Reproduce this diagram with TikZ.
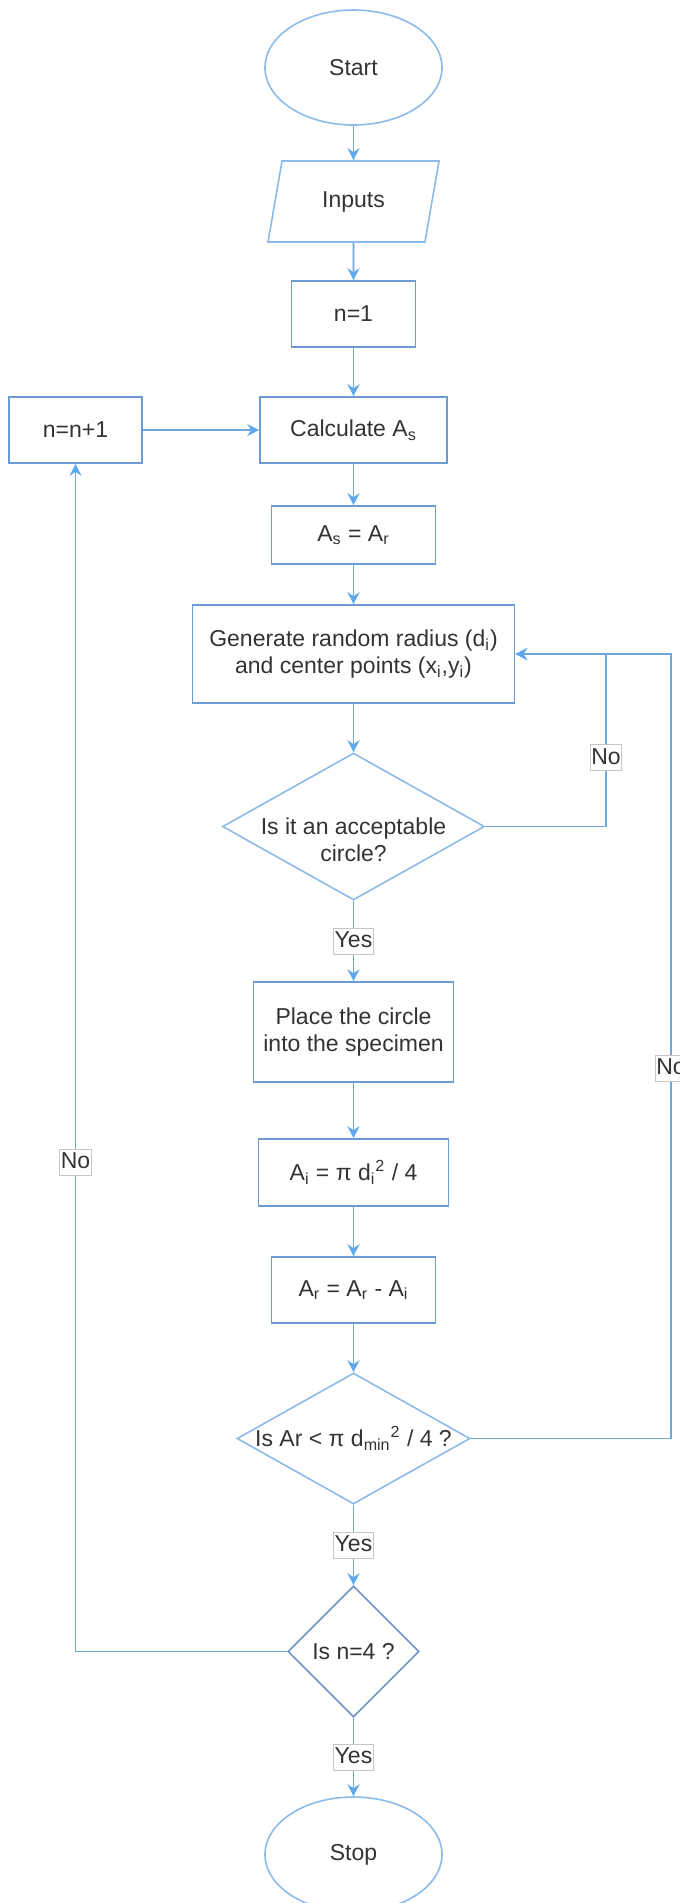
\documentclass[tikz,border=0pt]{standalone}
\usepackage{fontspec}
\setmainfont{Liberation Sans}
\usepackage{xcolor}
\usetikzlibrary{shapes.geometric, arrows.meta}
\definecolor{flowline}{HTML}{6FA8DC}
\definecolor{flowtip}{HTML}{5FA8F0}
\definecolor{boxline}{HTML}{6C9BD2}
\definecolor{softline}{HTML}{8CBBEA}
\definecolor{textgray}{HTML}{333333}

\begin{document}
\begin{tikzpicture}[x=0.5pt, y=-0.5pt, >={Stealth[length=6pt,width=6pt,inset=2pt,color=flowtip]},
  font=\fontsize{11.5}{13.5}\selectfont, text=textgray,
  terminal/.style={ellipse, draw=softline, line width=0.8pt, minimum width=88.5pt, minimum height=57.5pt},
  process/.style={rectangle, draw=boxline, line width=0.8pt, align=center, minimum height=33pt},
  decision/.style={diamond, draw=softline, line width=0.8pt, inner sep=0pt},
  flow/.style={->, draw=flowline, line width=0.8pt},
  tag/.style={fill=white, draw=gray!45, line width=0.4pt, inner xsep=0.5pt, inner ysep=1.2pt, text height=8.5pt, text depth=2pt}]

 \useasboundingbox (0,0) rectangle (680,1903);

 % main column
 \node (start) [terminal] at (353.5,67.5) {Start};
 \node (inputs) [trapezium, trapezium left angle=67.5, trapezium right angle=112.5, trapezium stretches body, draw=softline, line width=0.8pt, minimum width=85.5pt, minimum height=40.5pt, below of=start, node distance=67pt] {Inputs};
 \node (n1) [process, minimum width=62pt, below of=inputs, node distance=56.25pt] {n=1};
 \node (calc) [process, minimum width=93.5pt, below of=n1, node distance=58pt] {Calculate A\textsubscript{s}};
 \node (incr) [process, minimum width=66.5pt, left of=calc, node distance=139pt] {n=n+1};
 \node (asar) [process, minimum width=82pt, minimum height=29pt, below of=calc, node distance=52.5pt] {A\textsubscript{s} = A\textsubscript{r}};
 \node (gen) [process, minimum width=161pt, minimum height=49pt, below of=asar, node distance=59.5pt] {Generate random radius (d\textsubscript{i})\\and center points (x\textsubscript{i},y\textsubscript{i})};
 \node (dec1) [decision, minimum width=131pt, minimum height=73.5pt, below of=gen, node distance=86.25pt, label={[align=center, yshift=-6.5pt]center:Is it an acceptable\\circle?}] {};
 \node (place) [process, minimum width=100pt, minimum height=50pt, below of=dec1, node distance=102.75pt] {Place the circle\\into the specimen};
 \node (ai) [process, minimum width=95pt, minimum height=33.5pt, below of=place, node distance=70.25pt] {A\textsubscript{i} = π d\textsubscript{i}\textsuperscript{2} / 4};
 \node (ar) [process, minimum width=82pt, below of=ai, node distance=58.75pt] {A\textsubscript{r} = A\textsubscript{r} - A\textsubscript{i}};
 \node (dec2) [decision, minimum width=116.5pt, minimum height=65.5pt, below of=ar, node distance=74.25pt, label={center:Is Ar < π d\textsubscript{min}\textsuperscript{2} / 4 ?}] {};
 \node (dec3) [decision, draw=boxline!80!gray, minimum width=65.5pt, minimum height=65.5pt, below of=dec2, node distance=106.5pt, label={center:Is n=4 ?}] {};
 \node (stop) [terminal, below of=dec3, node distance=101.5pt] {Stop};

 % loop corners
 \coordinate (inner) at (606,654);
 \coordinate (outer) at (671,654);

 \draw[flow] (start) -- (inputs);
 \draw[flow] (inputs) -- (n1);
 \draw[flow] (n1) -- (calc);
 \draw[flow] (calc) -- (asar);
 \draw[flow] (asar) -- (gen);
 \draw[flow] (gen) -- (dec1);
 \draw[flow] (dec1) -- node[tag] {Yes} (place);
 \draw[flow] (place) -- (ai);
 \draw[flow] (ai) -- (ar);
 \draw[flow] (ar) -- (dec2);
 \draw[flow] (dec2) -- node[tag] {Yes} (dec3);
 \draw[flow] (dec3) -- node[tag] {Yes} (stop);

 \draw[flow] (dec1.east) -| node[tag, pos=0.70] {No} (inner) -- (gen.east);
 \draw[flow] (dec2.east) -| node[tag, pos=0.736] {No} (outer) -- (gen.east);
 \draw[flow] (dec3.west) -| node[tag, pos=0.706] {No} (incr.south);
 \draw[flow] (incr) -- (calc);
\end{tikzpicture}
\end{document}
